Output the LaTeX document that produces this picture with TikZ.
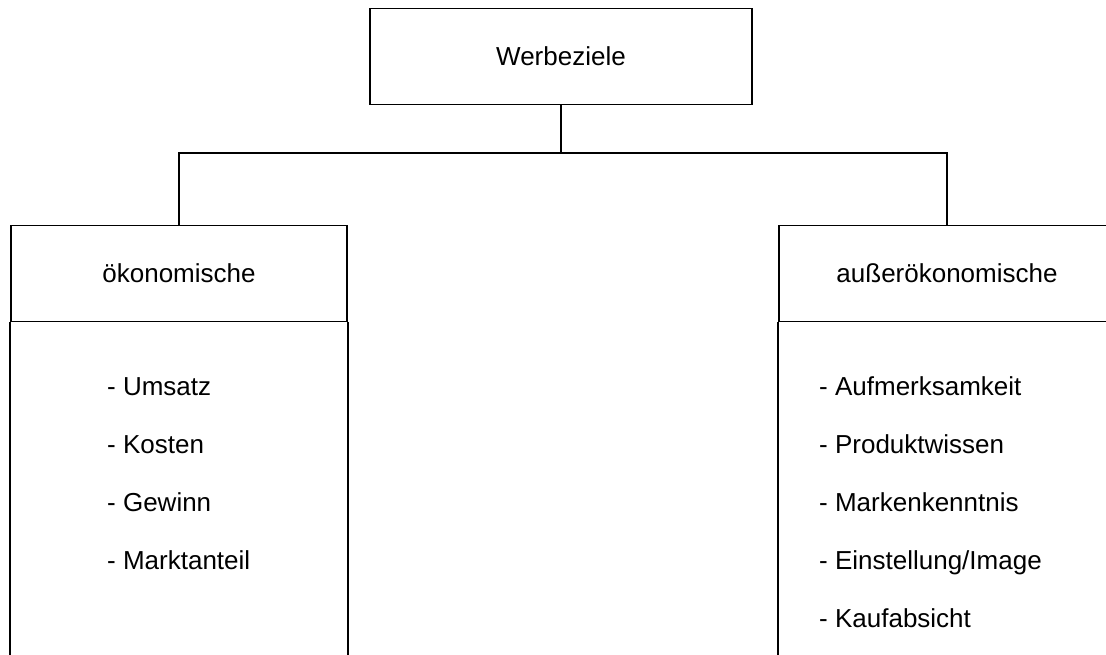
\documentclass[tikz,border=0pt]{standalone}
\usepackage{fontspec}
\setmainfont{Liberation Sans}
\begin{document}
\begin{tikzpicture}[x=1pt,y=-1pt,
  every node/.style={font=\fontsize{26}{31}\selectfont},
  boxnode/.style={draw,line width=1.8pt,minimum width=#1,minimum height=96pt,inner sep=0pt},
  link/.style={line width=1.3pt},
  side/.style={line width=1.8pt},
  item/.style={anchor=base west,inner sep=0pt}]
\useasboundingbox (0,0) rectangle (1106,655);
\clip (0,0) rectangle (1106,655);
\node[boxnode=382pt] (top) at (561,56.5) {Werbeziele};
\node[boxnode=336pt] (lhead) at (179,273.5) {ökonomische};
\node[boxnode=336pt] (rhead) at (947,273.5) {außerökonomische};
\coordinate (j) at (561,153);
\draw[link] (top.south) -- (j);
\draw[link] (lhead.north) -- (lhead.north |- j) -- (rhead.north |- j) -- (rhead.north);
\coordinate (lbl) at (11,670);
\coordinate (lbr) at (347,670);
\coordinate (rbl) at (779,670);
\coordinate (rbr) at (1115,670);
\draw[side] (lhead.south west) -- (lhead.south west |- lbl);
\draw[side] (lhead.south east) -- (lhead.south east |- lbr);
\draw[side] (rhead.south west) -- (rhead.south west |- rbl);
\draw[side] (rhead.south east) -- (rhead.south east |- rbr);
\node[item] (l1) at (107,395) {- Umsatz};
\node[item] (l2) at (107,453) {- Kosten};
\node[item] (l3) at (107,511) {- Gewinn};
\node[item] (l4) at (107,569) {- Marktanteil};
\node[item] (r1) at (819,395) {- Aufmerksamkeit};
\node[item] (r2) at (819,453) {- Produktwissen};
\node[item] (r3) at (819,511) {- Markenkenntnis};
\node[item] (r4) at (819,569) {- Einstellung/Image};
\node[item] (r5) at (819,627) {- Kaufabsicht};
\end{tikzpicture}
\end{document}
